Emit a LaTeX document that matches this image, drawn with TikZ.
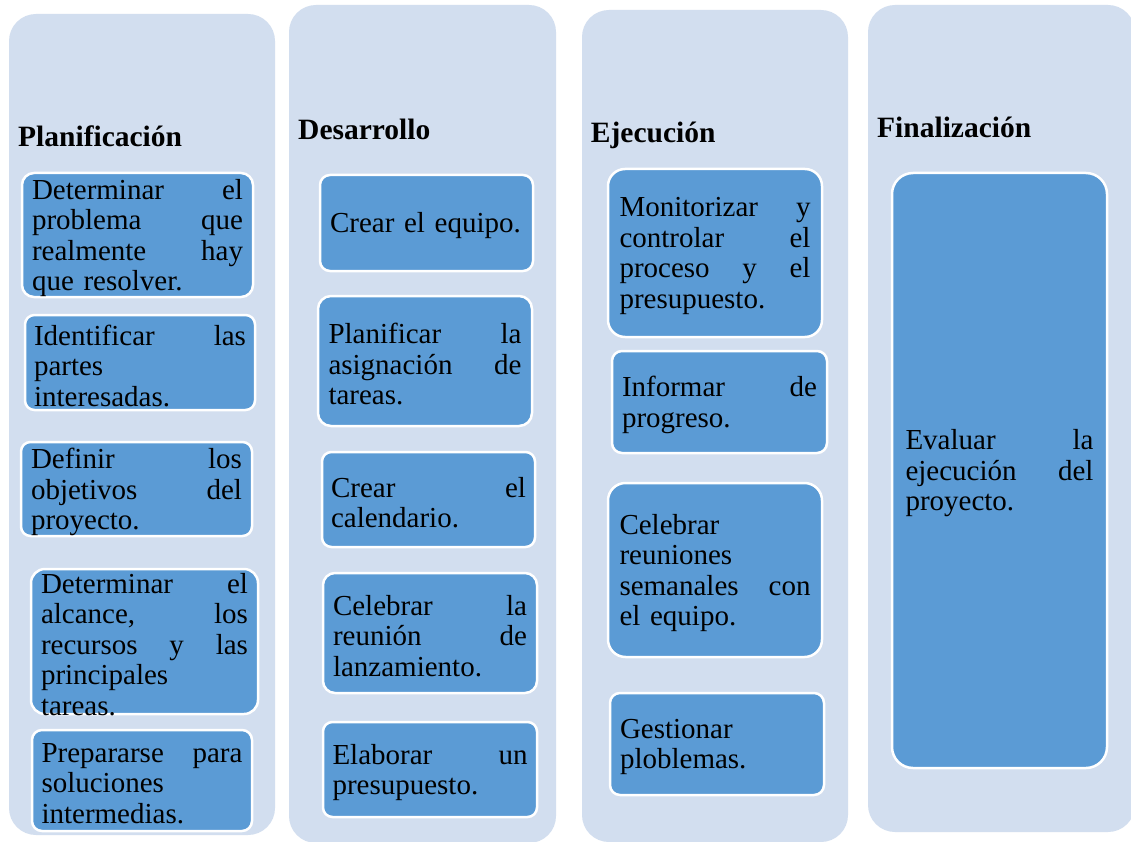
\documentclass[tikz,border=0pt]{standalone}
\usepackage{fontspec}
\setmainfont{Liberation Serif}
\usetikzlibrary{fit}
\definecolor{panelcol}{HTML}{D2DEEF}
\definecolor{boxcol}{HTML}{5B9BD5}
\tikzset{
  panelbox/.style={fill=panelcol, draw=none, inner sep=0pt},
  itembox/.style={fill=boxcol, draw=white, line width=2.5pt, inner sep=0pt},
  itemtext/.style={align=left, inner sep=0pt, yshift=-3pt, text=black, font=\fontsize{29}{30.5}\selectfont},
  titletext/.style={anchor=base west, inner sep=0pt, text=black, font=\fontsize{29.5}{31}\selectfont\bfseries},
}
\begin{document}
\begin{tikzpicture}[x=1pt,y=-1pt]
\clip (0,0) rectangle (1131,842);
\fill[white] (0,0) rectangle (1131,842);
% panels
\node[panelbox, rounded corners=27pt, fit={(9,14) (275,835)}] (p1) {};
\node[panelbox, rounded corners=27pt, fit={(289,5) (556,843)}] (p2) {};
\node[panelbox, rounded corners=27pt, fit={(582,10) (848,842)}] (p3) {};
\node[panelbox, rounded corners=27pt, fit={(868,5) (1135,832)}] (p4) {};
% titles
\node[titletext] (h1) at (18,146.7) {Planificación};
\node[titletext] (h2) at (298,140) {Desarrollo};
\node[titletext] (h3) at (590.7,143) {Ejecución};
\node[titletext] (h4) at (877,138) {Finalización};
% column 1
\node[itembox, rounded corners=12pt, fit={(22,173) (253,297)}] (bA) {};
\node[itemtext, text width=211pt] (tA) at (bA.center) {Determinar\hfill el\\problema\hfill que\\realmente\hfill hay\\que resolver.};
\node[itembox, rounded corners=9.5pt, fit={(25,315) (255,410)}] (bB) {};
\node[itemtext, text width=212pt] (tB) at (bB.center) {Identificar\hfill las\\partes\\interesadas.};
\node[itembox, rounded corners=9.5pt, fit={(21,442) (252,536)}] (bC) {};
\node[itemtext, text width=211pt] (tC) at (bC.center) {Definir\hfill los\\objetivos\hfill del\\proyecto.};
\node[itembox, rounded corners=14pt, fit={(31,569) (258,714)}] (bD) {};
\node[itemtext, text width=207pt] (tD) at (bD.center) {Determinar\hfill el\\alcance,\hfill los\\recursos\hfill y\hfill las\\principales\\tareas.};
\node[itembox, rounded corners=10pt, fit={(32,730) (252,831)}] (bE) {};
\node[itemtext, text width=201pt] (tE) at (bE.center) {Prepararse\hfill para\\soluciones\\intermedias.};
% column 2
\node[itembox, rounded corners=10pt, fit={(320,175) (533,271)}] (bF) {};
\node[itemtext, text width=193pt] (tF) at (bF.center) {Crear el equipo.};
\node[itembox, rounded corners=13pt, fit={(318,296) (532,426)}] (bG) {};
\node[itemtext, text width=193pt] (tG) at (bG.center) {Planificar\hfill la\\asignación\hfill de\\tareas.};
\node[itembox, rounded corners=9.5pt, fit={(322,452) (535,547)}] (bH) {};
\node[itemtext, text width=195pt] (tH) at (bH.center) {Crear\hfill el\\calendario.};
\node[itembox, rounded corners=12pt, fit={(323,573) (537,693)}] (bI) {};
\node[itemtext, text width=194pt] (tI) at (bI.center) {Celebrar\hfill la\\reunión\hfill de\\lanzamiento.};
\node[itembox, rounded corners=9.5pt, fit={(323,722) (537,817)}] (bJ) {};
\node[itemtext, text width=195pt] (tJ) at (bJ.center) {Elaborar\hfill un\\presupuesto.};
% column 3
\node[itembox, rounded corners=17pt, fit={(608,169) (822,337)}] (bK) {};
\node[itemtext, text width=191pt] (tK) at (bK.center) {Monitorizar\hfill y\\controlar\hfill el\\proceso\hfill y\hfill el\\presupuesto.};
\node[itembox, rounded corners=10pt, fit={(612,351) (827,453)}] (bL) {};
\node[itemtext, text width=195pt] (tL) at (bL.center) {Informar\hfill de\\progreso.};
\node[itembox, rounded corners=17.5pt, fit={(608,483) (822,657)}] (bM) {};
\node[itemtext, text width=191pt] (tM) at (bM.center) {Celebrar\\reuniones\\semanales\hfill con\\el equipo.};
\node[itembox, rounded corners=10pt, fit={(610,693) (824,795)}] (bN) {};
\node[itemtext, text width=194pt] (tN) at (bN.center) {Gestionar\\ploblemas.};
% column 4
\node[itembox, rounded corners=21pt, fit={(892,173) (1107,768)}] (bO) {};
\node[itemtext, text width=188pt] (tO) at (bO.center) {Evaluar\hfill la\\ejecución\hfill del\\proyecto.};
\end{tikzpicture}
\end{document}
